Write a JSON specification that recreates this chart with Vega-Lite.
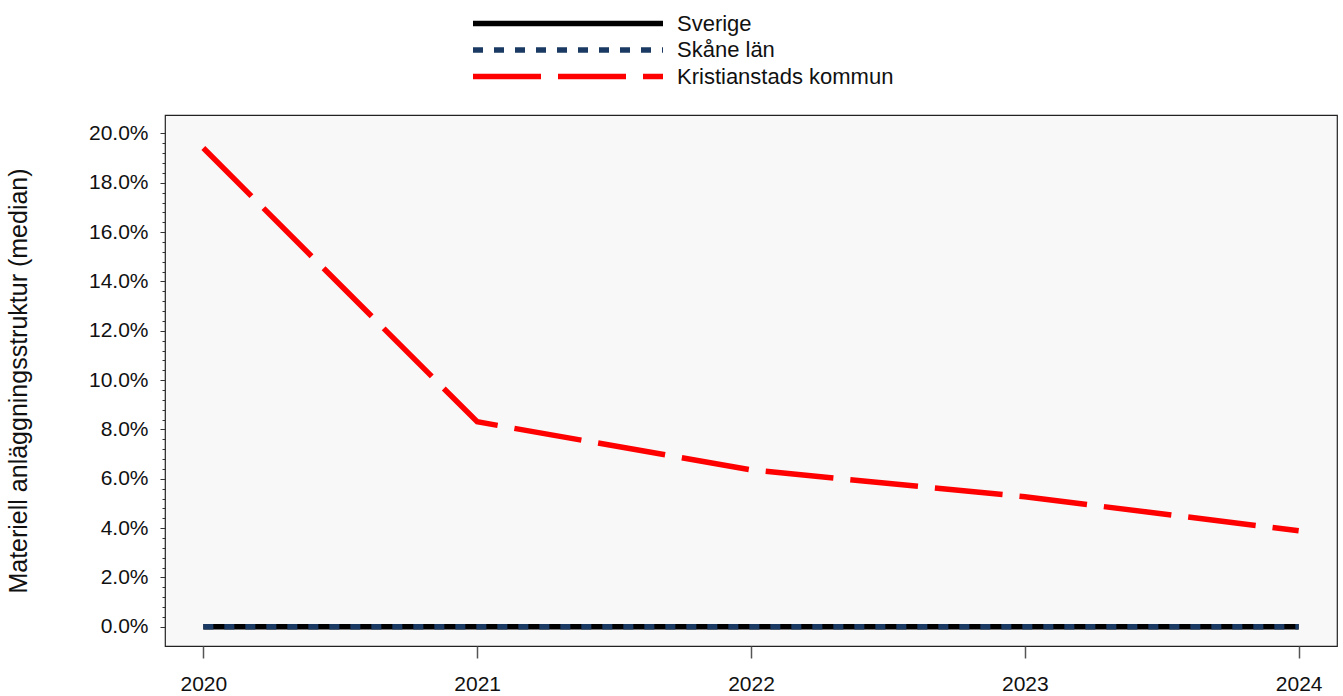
{
  "$schema": "https://vega.github.io/schema/vega-lite/v6.json",
  "width": 1172,
  "height": 531,
  "autosize": {"type": "none"},
  "padding": {"left": 165, "top": 115, "right": 6, "bottom": 50},
  "background": "white",
  "config": {
    "font": "Liberation Sans",
    "view": {"fill": "#f8f8f8", "stroke": "#222222", "strokeWidth": 1.2}
  },
  "data": {
    "values": [
      {"year": 2020, "region": "Sverige", "value": 0},
      {"year": 2021, "region": "Sverige", "value": 0},
      {"year": 2022, "region": "Sverige", "value": 0},
      {"year": 2023, "region": "Sverige", "value": 0},
      {"year": 2024, "region": "Sverige", "value": 0},
      {"year": 2020, "region": "Skåne län", "value": 0},
      {"year": 2021, "region": "Skåne län", "value": 0},
      {"year": 2022, "region": "Skåne län", "value": 0},
      {"year": 2023, "region": "Skåne län", "value": 0},
      {"year": 2024, "region": "Skåne län", "value": 0},
      {"year": 2020, "region": "Kristianstads kommun", "value": 0.1941},
      {"year": 2021, "region": "Kristianstads kommun", "value": 0.0831},
      {"year": 2022, "region": "Kristianstads kommun", "value": 0.0636},
      {"year": 2023, "region": "Kristianstads kommun", "value": 0.0527},
      {"year": 2024, "region": "Kristianstads kommun", "value": 0.0389}
    ]
  },
  "resolve": {"axis": {"y": "independent"}},
  "layer": [
    {
      "mark": {"type": "line", "strokeWidth": 5.5, "strokeCap": "butt"},
      "encoding": {
        "x": {
          "field": "year", "type": "quantitative",
          "scale": {"domain": [2019.86, 2024.14], "nice": false, "zero": false},
          "axis": {
            "values": [2020, 2021, 2022, 2023, 2024], "format": "d", "title": null,
            "grid": false, "domain": false, "tickSize": 12, "tickColor": "#555555", "tickWidth": 1.5,
            "labelFontSize": 21, "labelColor": "#111111", "labelPadding": 15
          }
        },
        "y": {
          "field": "value", "type": "quantitative",
          "scale": {"domain": [-0.0078, 0.2075], "nice": false, "zero": false},
          "axis": {
            "values": [0, 0.02, 0.04, 0.06, 0.08, 0.1, 0.12, 0.14, 0.16, 0.18, 0.2],
            "format": ".1%", "grid": false, "domain": false, "orient": "left",
            "tickSize": 5, "tickColor": "#333333", "tickWidth": 1,
            "labelFontSize": 21, "labelColor": "#111111", "labelPadding": 12,
            "title": "Materiell anläggningsstruktur (median)", "titleFontSize": 25,
            "titleFontWeight": "normal", "titleColor": "#111111", "titleX": -134
          }
        },
        "color": {
          "field": "region", "type": "nominal",
          "scale": {"domain": ["Sverige", "Skåne län", "Kristianstads kommun"], "range": ["#000000", "#1b3a63", "#ff0000"]},
          "legend": {
            "title": null, "orient": "none", "legendX": 305, "legendY": -104,
            "symbolType": "M-1,0H19", "symbolSize": 361, "symbolStrokeWidth": 5.5,
            "labelFontSize": 22, "labelColor": "#111111", "labelOffset": 182, "rowPadding": 2.5, "labelLimit": 500
          }
        },
        "strokeDash": {
          "field": "region", "type": "nominal",
          "scale": {"domain": ["Sverige", "Skåne län", "Kristianstads kommun"], "range": [[1, 0], [10, 11], [68, 17]]},
          "legend": {
            "title": null, "orient": "none", "legendX": 305, "legendY": -104,
            "symbolType": "M-1,0H19", "symbolSize": 361, "symbolStrokeWidth": 5.5,
            "labelFontSize": 22, "labelColor": "#111111", "labelOffset": 182, "rowPadding": 2.5, "labelLimit": 500
          }
        },
        "order": {"field": "year", "type": "quantitative"}
      }
    },
    {
      "mark": {"type": "line", "opacity": 0},
      "encoding": {
        "x": {"field": "year", "type": "quantitative"},
        "y": {
          "field": "value", "type": "quantitative",
          "axis": {
            "values": [0, 0.004, 0.008, 0.012, 0.016, 0.02, 0.024, 0.028, 0.032, 0.036, 0.04, 0.044, 0.048, 0.052, 0.056, 0.06, 0.064, 0.068, 0.072, 0.076, 0.08, 0.084, 0.088, 0.092, 0.096, 0.1, 0.104, 0.108, 0.112, 0.116, 0.12, 0.124, 0.128, 0.132, 0.136, 0.14, 0.144, 0.148, 0.152, 0.156, 0.16, 0.164, 0.168, 0.172, 0.176, 0.18, 0.184, 0.188, 0.192, 0.196, 0.2],
            "orient": "left", "labels": false, "grid": false, "domain": false, "title": null,
            "tickSize": 3, "tickColor": "#333333", "tickWidth": 1
          }
        },
        "detail": {"field": "region", "type": "nominal"}
      }
    }
  ]
}
